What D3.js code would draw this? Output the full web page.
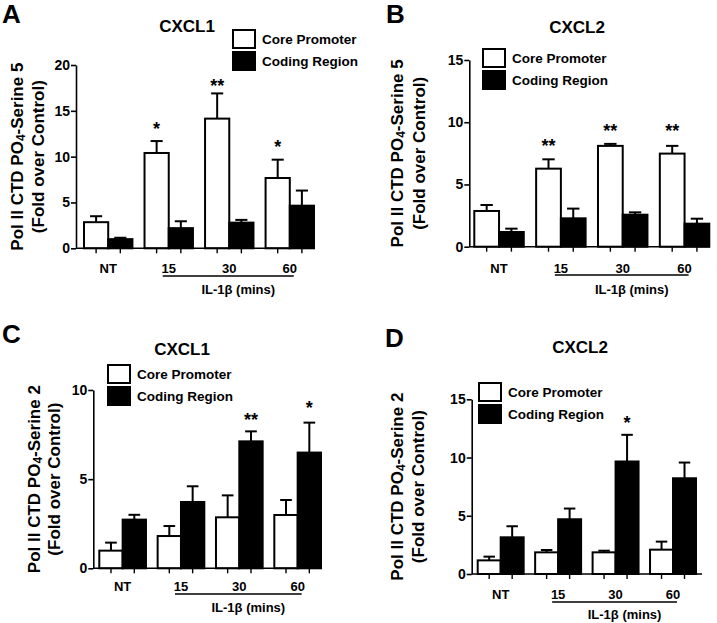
<!DOCTYPE html>
<html><head><meta charset="utf-8">
<script src="https://cdn.jsdelivr.net/npm/d3@7"></script>
<style>
body{margin:0;background:#fff}
text{font-family:"Liberation Sans",Arial,Helvetica,sans-serif;font-weight:bold;fill:#000}
</style>
</head><body><svg id="c" width="717" height="623"></svg>
<script>
// ---------- data ----------
const groups = ["NT", "15", "30", "60"];
const seriesNames = ["Core Promoter", "Coding Region"];
const groupAxisLabel = "IL-1\u03b2 (mins)";

// Panel A: CXCL1, Pol II CTD PO4-Serine 5
const aCore      = [2.85, 10.4, 14.15, 7.67];
const aCoreErr   = [0.65, 1.3, 2.75, 2.0];
const aCoding    = [1.0, 2.2, 2.8, 4.65];
const aCodingErr = [0.15, 0.75, 0.3, 1.65];
const aStars     = ["", "*", "**", "*"];
const aStarLevel = [null, 13.55, 18.2, 11.5];
const aTicks     = [0, 5, 10, 15, 20];

// Panel B: CXCL2, Serine 5
const bCore      = [2.87, 6.27, 8.1, 7.48];
const bCoreErr   = [0.48, 0.75, 0.16, 0.62];
const bCoding    = [1.18, 2.28, 2.57, 1.85];
const bCodingErr = [0.27, 0.78, 0.19, 0.4];
const bStars     = ["", "**", "**", "**"];
const bStarLevel = [null, 8.44, 9.65, 9.65];
const bTicks     = [0, 5, 10, 15];

// Panel C: CXCL1, Serine 2
const cCore      = [0.99, 1.81, 2.86, 2.99];
const cCoreErr   = [0.45, 0.56, 1.23, 0.84];
const cCoding    = [2.73, 3.72, 7.12, 6.49];
const cCodingErr = [0.27, 0.88, 0.56, 1.68];
const cStars     = ["", "", "**", "*"];
const cStarLevel = [null, null, 8.56, 9.25];
const cTicks     = [0, 5, 10];

// Panel D: CXCL2, Serine 2
const dCore      = [1.17, 1.86, 1.86, 2.09];
const dCoreErr   = [0.32, 0.2, 0.14, 0.69];
const dCoding    = [3.15, 4.7, 9.66, 8.22];
const dCodingErr = [0.95, 0.92, 2.29, 1.35];
const dStars     = ["", "", "*", ""];
const dStarLevel = [null, null, 13.36, null];
const dTicks     = [0, 5, 10, 15];

// ---------- layout ----------
const panels = [
  {letter:"A", title:"CXCL1", serine:"5", core:aCore, coreErr:aCoreErr, coding:aCoding, codingErr:aCodingErr,
   stars:aStars, starLevel:aStarLevel, starOn:0, ticks:aTicks,
   axisX:76, axisEnd:315, y0:248.3, yTopPx:65, gStart:84, gEnd:314,
   letterPos:[2,23], titlePos:[187,32], legend:[232,29], yTitleX:[17,38],
   labelY:273, lineY:276, ilY:294},
  {letter:"B", title:"CXCL2", serine:"5", core:bCore, coreErr:bCoreErr, coding:bCoding, codingErr:bCodingErr,
   stars:bStars, starLevel:bStarLevel, starOn:0, ticks:bTicks,
   axisX:469.3, axisEnd:710, y0:246.7, yTopPx:60, gStart:474.3, gEnd:709.3,
   letterPos:[386,23], titlePos:[577,33], legend:[482,48], yTitleX:[397,419],
   labelY:273, lineY:275, ilY:294},
  {letter:"C", title:"CXCL1", serine:"2", core:cCore, coreErr:cCoreErr, coding:cCoding, codingErr:cCodingErr,
   stars:cStars, starLevel:cStarLevel, starOn:1, ticks:cTicks,
   axisX:93.3, axisEnd:322, y0:568.3, yTopPx:390, gStart:99.3, gEnd:321,
   letterPos:[2,343], titlePos:[182,355], legend:[107,364], yTitleX:[34,54],
   labelY:591, lineY:594, ilY:612},
  {letter:"D", title:"CXCL2", serine:"2", core:dCore, coreErr:dCoreErr, coding:dCoding, codingErr:dCodingErr,
   stars:dStars, starLevel:dStarLevel, starOn:1, ticks:dTicks,
   axisX:471.7, axisEnd:702, y0:574, yTopPx:399.3, gStart:477.7, gEnd:696,
   letterPos:[385,347], titlePos:[580,353], legend:[478,382], yTitleX:[397,418],
   labelY:599, lineY:602, ilY:619}
];

const svg = d3.select("#c");
svg.append("rect").attr("width",717).attr("height",623).attr("fill","#fff");

panels.forEach(p => {
  const g = svg.append("g");
  const yMax = d3.max(p.ticks);
  const y = d3.scaleLinear().domain([0, yMax]).range([p.y0, p.yTopPx]);
  const x0 = d3.scaleBand().domain(groups).range([p.gStart, p.gEnd]).paddingInner(0.2).paddingOuter(0);
  const x1 = d3.scaleBand().domain([0,1]).range([0, x0.bandwidth()]);
  const series = [
    {vals:p.core, errs:p.coreErr, fill:"#fff"},
    {vals:p.coding, errs:p.codingErr, fill:"#000"}
  ];

  // bars
  series.forEach((s, si) => {
    g.selectAll(null).data(groups).enter().append("rect")
      .attr("x", d => x0(d) + x1(si))
      .attr("y", (d,i) => y(s.vals[i]))
      .attr("width", x1.bandwidth())
      .attr("height", (d,i) => y(0) - y(s.vals[i]))
      .attr("fill", s.fill).attr("stroke","#000").attr("stroke-width", 2);
    // error bars
    const cx = d => x0(d) + x1(si) + x1.bandwidth()/2;
    const capW = x1.bandwidth()*0.5;
    g.selectAll(null).data(groups).enter().append("line")
      .attr("x1", cx).attr("x2", cx)
      .attr("y1", (d,i) => y(s.vals[i]))
      .attr("y2", (d,i) => y(s.vals[i] + s.errs[i]))
      .attr("stroke","#000").attr("stroke-width",2);
    g.selectAll(null).data(groups).enter().append("line")
      .attr("x1", d => cx(d) - capW/2).attr("x2", d => cx(d) + capW/2)
      .attr("y1", (d,i) => y(s.vals[i] + s.errs[i]))
      .attr("y2", (d,i) => y(s.vals[i] + s.errs[i]))
      .attr("stroke","#000").attr("stroke-width",2);
  });

  // significance stars
  g.selectAll(null).data(groups).enter().filter((d,i) => p.stars[i]).append("text")
    .attr("x", d => x0(d) + x1(p.starOn) + x1.bandwidth()/2)
    .attr("y", d => y(p.starLevel[groups.indexOf(d)]) + 10.5)
    .attr("text-anchor","middle").attr("font-size",18)
    .text(d => p.stars[groups.indexOf(d)]);

  // y axis
  const ya = g.append("g").attr("transform", `translate(${p.axisX},0)`)
    .call(d3.axisLeft(y).tickValues(p.ticks).tickSize(5).tickSizeOuter(0).tickPadding(1).tickFormat(d3.format("d")));
  ya.select(".domain").attr("stroke","#000").attr("stroke-width",1.6);
  ya.selectAll(".tick line").attr("stroke","#000").attr("stroke-width",1.6);
  ya.selectAll(".tick text").attr("font-size",14).attr("font-family",'"Liberation Sans",Arial,sans-serif').attr("font-weight","bold").attr("fill","#000");

  // x axis line + ticks at bar centers
  g.append("line").attr("x1", p.axisX).attr("x2", p.axisEnd).attr("y1", p.y0).attr("y2", p.y0)
    .attr("stroke","#000").attr("stroke-width",1.6);
  [0,1].forEach(si => {
    g.selectAll(null).data(groups).enter().append("line")
      .attr("x1", d => x0(d) + x1(si) + x1.bandwidth()/2)
      .attr("x2", d => x0(d) + x1(si) + x1.bandwidth()/2)
      .attr("y1", p.y0).attr("y2", p.y0 + 5)
      .attr("stroke","#000").attr("stroke-width",1.4);
  });
  g.selectAll(null).data(groups).enter().append("text")
    .attr("x", d => x0(d) + x0.bandwidth()/2).attr("y", p.labelY)
    .attr("text-anchor","middle").attr("font-size",13).text(d => d);

  // IL-1b underline and label
  const ul1 = x0(groups[1]) + x0.bandwidth()/2 - 6;
  const ul2 = x0(groups[3]) + x0.bandwidth()/2 + 4;
  g.append("line").attr("x1", ul1).attr("x2", ul2).attr("y1", p.lineY).attr("y2", p.lineY)
    .attr("stroke","#000").attr("stroke-width",1.6);
  g.append("text").attr("x", (ul1+ul2)/2 + 10).attr("y", p.ilY).attr("text-anchor","middle")
    .attr("font-size",13).text(groupAxisLabel);

  // y title
  const yc = (p.y0 + p.yTopPx)/2;
  const t1 = g.append("text").attr("transform", `translate(${p.yTitleX[0]},${yc}) rotate(-90)`)
    .attr("text-anchor","middle").attr("dominant-baseline","central").attr("font-size",17);
  t1.append("tspan").text("Pol II CTD PO");
  t1.append("tspan").attr("font-size",12).attr("dy",4).text("4");
  t1.append("tspan").attr("dy",-4).text("-Serine " + p.serine);
  g.append("text").attr("transform", `translate(${p.yTitleX[1]},${yc}) rotate(-90)`)
    .attr("text-anchor","middle").attr("dominant-baseline","central").attr("font-size",17)
    .text("(Fold over Control)");

  // panel letter and title
  g.append("text").attr("x", p.letterPos[0]).attr("y", p.letterPos[1]).attr("font-size",26).text(p.letter);
  g.append("text").attr("x", p.titlePos[0]).attr("y", p.titlePos[1]).attr("text-anchor","middle")
    .attr("font-size",17).text(p.title);

  // legend
  const lg = g.append("g").attr("transform", `translate(${p.legend[0]},${p.legend[1]})`);
  seriesNames.forEach((n, i) => {
    lg.append("rect").attr("x",1).attr("y", i*22 + 1).attr("width",22).attr("height",18)
      .attr("fill", i ? "#000" : "#fff").attr("stroke","#000").attr("stroke-width",2);
    lg.append("text").attr("x",30).attr("y", i*22 + 10).attr("dominant-baseline","central")
      .attr("font-size",13.5).text(n);
  });
});
</script>
</body></html>
